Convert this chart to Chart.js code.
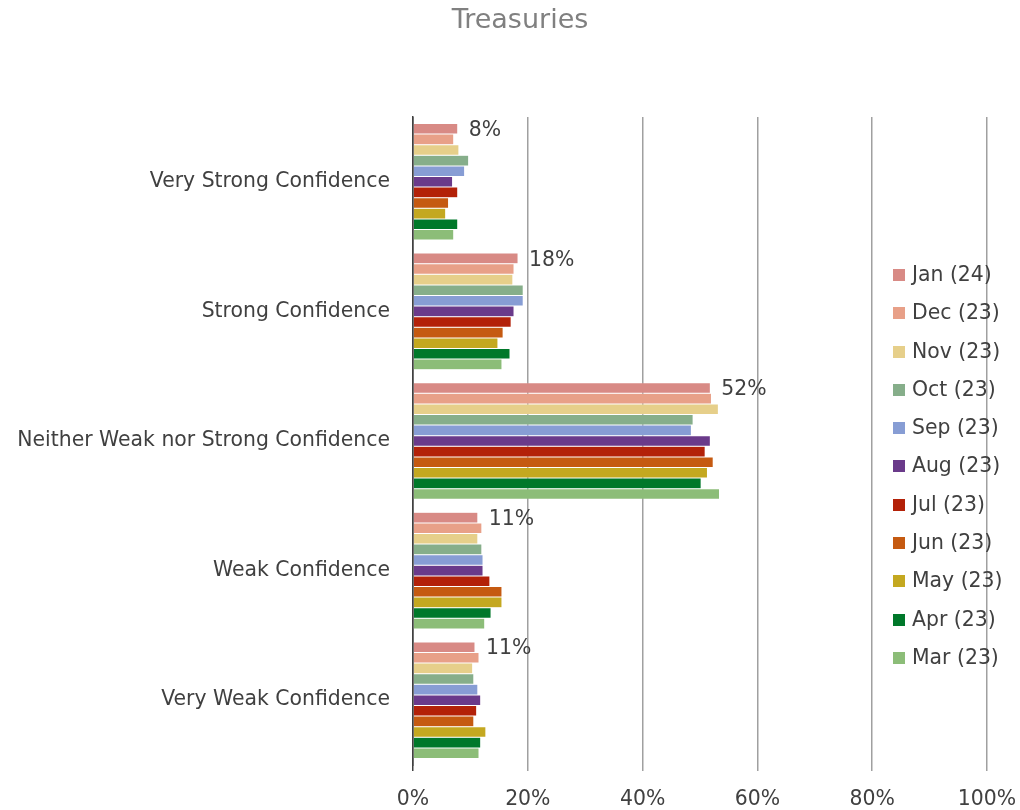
<!DOCTYPE html>
<html>
<head>
<meta charset="utf-8">
<script src="https://cdn.jsdelivr.net/npm/chart.js@4/dist/chart.umd.min.js"></script>
<style>
  body { margin: 0; background: #fff; }
  #wrap { position: relative; width: 1020px; height: 810px; }
  #legend { position: absolute; left: 893px; top: 255px; font-family: "DejaVu Sans", Verdana, sans-serif; font-size: 20.4px; color: #404040; }
  #legend div { height: 38.3px; line-height: 38.3px; white-space: nowrap; }
  #legend span.box { display: inline-block; width: 12px; height: 12px; margin-right: 7px; vertical-align: 0px; }
</style>
</head>
<body>
<div id="wrap">
  <canvas id="chart" width="1020" height="810"></canvas>
  <div id="legend"></div>
</div>
<script>
// categories (top to bottom)
const categories = ['Very Strong Confidence', 'Strong Confidence', 'Neither Weak nor Strong Confidence', 'Weak Confidence', 'Very Weak Confidence'];

// series, newest first (values in %)
const seriesNames = ['Jan (24)', 'Dec (23)', 'Nov (23)', 'Oct (23)', 'Sep (23)', 'Aug (23)', 'Jul (23)', 'Jun (23)', 'May (23)', 'Apr (23)', 'Mar (23)'];
const jan24 = [7.8, 18.3, 51.8, 11.3, 10.8];
const dec23 = [7.1, 17.6, 52.0, 12.0, 11.5];
const nov23 = [8.0, 17.4, 53.2, 11.3, 10.4];
const oct23 = [9.7, 19.2, 48.8, 12.0, 10.6];
const sep23 = [9.0, 19.2, 48.5, 12.2, 11.3];
const aug23 = [6.9, 17.6, 51.8, 12.2, 11.8];
const jul23 = [7.8, 17.1, 50.9, 13.4, 11.1];
const jun23 = [6.2, 15.7, 52.3, 15.5, 10.6];
const may23 = [5.7, 14.8, 51.3, 15.5, 12.7];
const apr23 = [7.8, 16.9, 50.2, 13.6, 11.8];
const mar23 = [7.1, 15.5, 53.4, 12.5, 11.5];
const seriesValues = [jan24, dec23, nov23, oct23, sep23, aug23, jul23, jun23, may23, apr23, mar23];

const colors = ['#D88A85', '#E8A088', '#E6CF8A', '#86AE8A', '#879DD4', '#6A3A8A', '#B32108', '#C55A11', '#C4A820', '#00782A', '#8CBD78'];

const tickLabels = [0, 20, 40, 60, 80, 100];

const FONT = '"DejaVu Sans", Verdana, sans-serif';
const TEXT = '#404040';

const datasets = seriesNames.map((name, i) => ({
  label: name,
  data: seriesValues[i],
  backgroundColor: colors[i],
  borderColor: 'rgba(255,255,255,0.5)',
  borderWidth: 0.5,
  categoryPercentage: 0.9,
  barPercentage: 1.0
}));

// title drawn by hand so it can sit off-centre like the original
const titlePlugin = {
  id: 'titlePlugin',
  afterDraw(chart) {
    const ctx = chart.ctx;
    ctx.save();
    ctx.font = '27px ' + FONT;
    ctx.fillStyle = '#808080';
    ctx.textAlign = 'center';
    ctx.textBaseline = 'middle';
    ctx.fillText('Treasuries', 520, 21);
    ctx.restore();
  }
};

// labels for the Jan (24) series only
const janLabels = {
  id: 'janLabels',
  afterDatasetsDraw(chart) {
    const ctx = chart.ctx;
    const meta = chart.getDatasetMeta(0);
    ctx.save();
    ctx.font = '20.4px ' + FONT;
    ctx.fillStyle = TEXT;
    ctx.textAlign = 'left';
    ctx.textBaseline = 'middle';
    meta.data.forEach((bar, i) => {
      ctx.fillText(Math.round(jan24[i]) + '%', bar.x + 11, bar.y + 2);
    });
    ctx.restore();
  }
};

new Chart(document.getElementById('chart'), {
  type: 'bar',
  data: { labels: categories, datasets: datasets },
  options: {
    indexAxis: 'y',
    responsive: false,
    animation: false,
    layout: { padding: { left: 0, right: 33, top: 117, bottom: 0 } },
    plugins: {
      legend: { display: false },
      tooltip: { enabled: false },
      title: { display: false }
    },
    scales: {
      x: {
        min: 0,
        max: 100,
        afterBuildTicks: scale => { scale.ticks = tickLabels.map(v => ({ value: v })); },
        afterFit: scale => {
          scale.height = 45;
          scale.paddingLeft = 0;
          scale.paddingRight = 0;
        },
        border: { display: false },
        grid: {
          color: c => (c.tick && c.tick.value === 0 ? '#404040' : '#a0a0a0'),
          lineWidth: 1.5,
          tickLength: 6
        },
        ticks: {
          callback: v => v + '%',
          color: TEXT,
          font: { family: FONT, size: 20.4 },
          padding: 16
        }
      },
      y: {
        afterFit: scale => { scale.width = 413; },
        grid: { display: false },
        border: { display: true, color: '#404040', width: 1.5 },
        ticks: {
          color: TEXT,
          font: { family: FONT, size: 20.4 },
          padding: 15
        }
      }
    }
  },
  plugins: [janLabels, titlePlugin]
});

// html legend, drawn over the plot like the original
const legend = document.getElementById('legend');
seriesNames.forEach((name, i) => {
  const row = document.createElement('div');
  const box = document.createElement('span');
  box.className = 'box';
  box.style.background = colors[i];
  row.appendChild(box);
  row.appendChild(document.createTextNode(name));
  legend.appendChild(row);
});
</script>
</body>
</html>
